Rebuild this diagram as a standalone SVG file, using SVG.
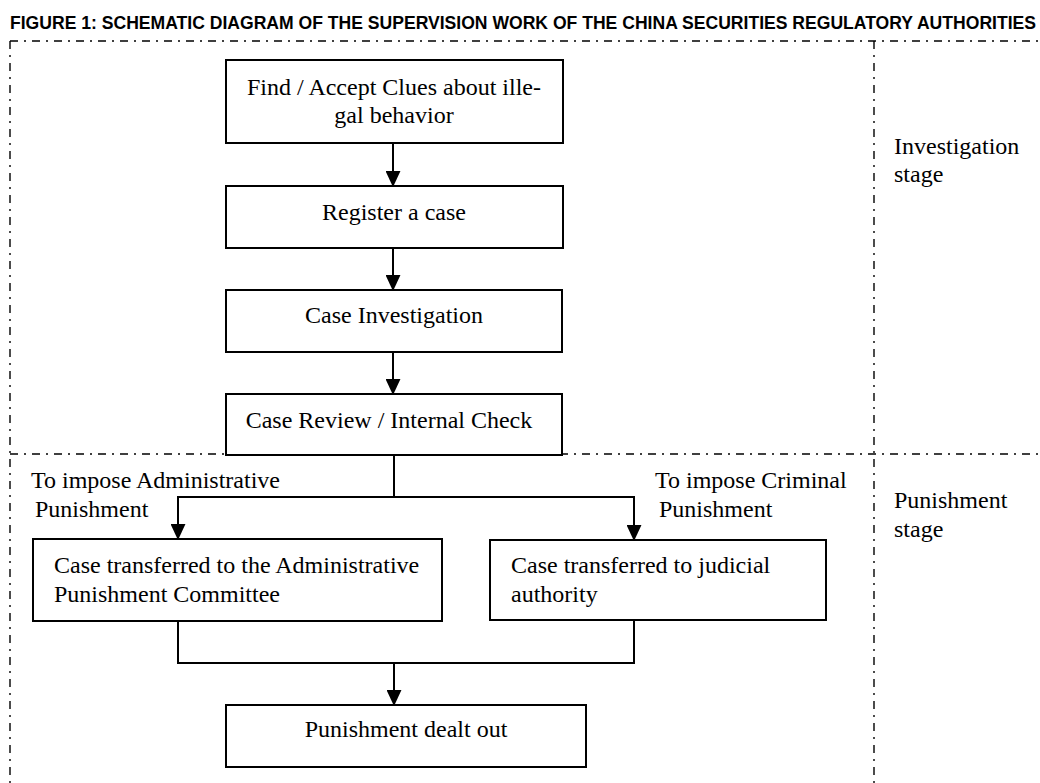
<svg xmlns="http://www.w3.org/2000/svg" width="1040" height="783" viewBox="0 0 1040 783">
<style>
.box{fill:#fff;stroke:#000;stroke-width:2}
.t{font-family:"Liberation Serif","Times New Roman",serif;font-size:24px;fill:#000}
.c{text-anchor:middle}
.dash{fill:none;stroke:#000;stroke-width:1.4;stroke-dasharray:8 6 2 6}
.conn{fill:none;stroke:#000;stroke-width:2}
.title{font-family:"Liberation Sans",Arial,sans-serif;font-weight:bold;font-size:17.5px;fill:#000}
</style>
<defs>
<marker id="arr" markerUnits="userSpaceOnUse" markerWidth="16" markerHeight="15" viewBox="0 0 15 14" refX="14" refY="7" orient="auto">
<path d="M0,0 L15,7 L0,14 z" fill="#000"/>
</marker>
</defs>
<rect width="1040" height="783" fill="#fff"/>
<text class="title" x="10" y="29" textLength="1026" lengthAdjust="spacingAndGlyphs">FIGURE 1: SCHEMATIC DIAGRAM OF THE SUPERVISION WORK OF THE CHINA SECURITIES REGULATORY AUTHORITIES</text>
<g id="frame">
<path class="dash" d="M10,41 H1040 M10,41 V783 M874,41 V783 M10,454 H1040"/>
</g>
<g id="stage-investigation">
<text class="t" x="894" y="154">Investigation</text>
<text class="t" x="894" y="182">stage</text>
</g>
<g id="stage-punishment">
<text class="t" x="894" y="508">Punishment</text>
<text class="t" x="894" y="537">stage</text>
</g>
<g id="connectors">
<path class="conn" d="M393,143 V186" marker-end="url(#arr)"/>
<path class="conn" d="M393,248 V290" marker-end="url(#arr)"/>
<path class="conn" d="M393,352 V394" marker-end="url(#arr)"/>
<path class="conn" d="M394,455 V497 M177,497 H635"/>
<path class="conn" d="M178,497 V539" marker-end="url(#arr)"/>
<path class="conn" d="M634,497 V540" marker-end="url(#arr)"/>
<path class="conn" d="M178,621 V663 H634 V620"/>
<path class="conn" d="M394,663 V705" marker-end="url(#arr)"/>
<text class="t" x="31" y="488">To impose Administrative</text>
<text class="t" x="35" y="517">Punishment</text>
<text class="t" x="655" y="488">To impose Criminal</text>
<text class="t" x="659" y="517">Punishment</text>
</g>
<g id="n1">
<rect class="box" x="226" y="60" width="337" height="83"/>
<text class="t c" x="394" y="95">Find / Accept Clues about ille-</text>
<text class="t c" x="394" y="123">gal behavior</text>
</g>
<g id="n2">
<rect class="box" x="226" y="186" width="337" height="62"/>
<text class="t c" x="394" y="220">Register a case</text>
</g>
<g id="n3">
<rect class="box" x="226" y="290" width="336" height="62"/>
<text class="t c" x="394" y="323">Case Investigation</text>
</g>
<g id="n4">
<rect class="box" x="226" y="394" width="336" height="61"/>
<text class="t c" x="389" y="428">Case Review / Internal Check</text>
</g>
<g id="n5">
<rect class="box" x="33" y="539" width="409" height="82"/>
<text class="t" x="54" y="573">Case transferred to the Administrative</text>
<text class="t" x="54" y="602">Punishment Committee</text>
</g>
<g id="n6">
<rect class="box" x="490" y="540" width="336" height="80"/>
<text class="t" x="511" y="573">Case transferred to judicial</text>
<text class="t" x="511" y="602">authority</text>
</g>
<g id="n7">
<rect class="box" x="226" y="705" width="360" height="62"/>
<text class="t c" x="406" y="737">Punishment dealt out</text>
</g>
</svg>
